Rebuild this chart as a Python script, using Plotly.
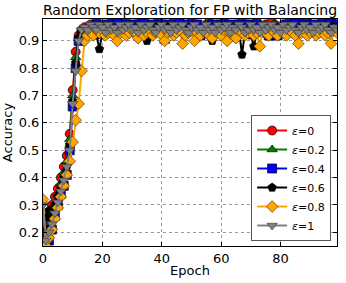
import plotly.graph_objects as go

epochs = list(range(100))

acc_e0 = [0.19,0.22,0.26,0.30,0.33,0.36,0.40,0.44,0.48,0.56,
          0.72,0.86,0.92,0.94,0.95,0.94,0.96,0.95,0.97,0.95,
          0.96,0.94,0.95,0.97,0.96,0.95,0.94,0.96,0.97,0.95,
          0.95,0.96,0.94,0.97,0.95,0.96,0.95,0.94,0.96,0.97,
          0.95,0.96,0.94,0.95,0.97,0.96,0.95,0.96,0.94,0.95,
          0.97,0.95,0.96,0.94,0.95,0.96,0.97,0.95,0.94,0.96,
          0.95,0.97,0.96,0.94,0.95,0.96,0.95,0.97,0.94,0.96,
          0.95,0.96,0.97,0.95,0.94,0.96,0.95,0.97,0.96,0.95,
          0.94,0.96,0.95,0.97,0.96,0.95,0.94,0.96,0.95,0.97,
          0.96,0.95,0.94,0.96,0.97,0.95,0.96,0.94,0.95,0.96]

acc_e02 = [0.18,0.20,0.24,0.27,0.30,0.34,0.38,0.42,0.46,0.54,
           0.70,0.84,0.91,0.93,0.94,0.95,0.94,0.96,0.95,0.94,
           0.95,0.96,0.94,0.95,0.96,0.94,0.95,0.97,0.95,0.94,
           0.96,0.95,0.94,0.96,0.95,0.94,0.96,0.95,0.97,0.94,
           0.95,0.90,0.94,0.96,0.95,0.94,0.96,0.95,0.94,0.96,
           0.95,0.94,0.96,0.95,0.94,0.96,0.95,0.94,0.96,0.95,
           0.94,0.96,0.95,0.94,0.96,0.95,0.94,0.95,0.92,0.96,
           0.95,0.94,0.96,0.95,0.94,0.96,0.95,0.94,0.96,0.95,
           0.94,0.96,0.95,0.94,0.95,0.96,0.94,0.97,0.95,0.94,
           0.96,0.95,0.94,0.96,0.95,0.94,0.96,0.95,0.94,0.95]

acc_e04 = [0.16,0.17,0.17,0.21,0.26,0.30,0.34,0.37,0.41,0.50,
           0.66,0.80,0.90,0.93,0.93,0.94,0.95,0.93,0.96,0.94,
           0.95,0.94,0.96,0.95,0.94,0.97,0.95,0.94,0.96,0.95,
           0.94,0.96,0.95,0.94,0.97,0.95,0.94,0.96,0.95,0.94,
           0.96,0.95,0.94,0.96,0.95,0.94,0.97,0.95,0.94,0.96,
           0.95,0.94,0.96,0.92,0.93,0.95,0.94,0.96,0.95,0.94,
           0.96,0.95,0.94,0.96,0.95,0.94,0.96,0.95,0.94,0.96,
           0.95,0.94,0.96,0.95,0.94,0.93,0.92,0.92,0.93,0.92,
           0.95,0.94,0.96,0.95,0.94,0.97,0.95,0.94,0.96,0.95,
           0.94,0.96,0.95,0.94,0.96,0.95,0.94,0.97,0.95,0.96]

acc_e06 = [0.22,0.25,0.28,0.27,0.30,0.33,0.36,0.40,0.44,0.52,
           0.68,0.82,0.91,0.93,0.94,0.93,0.94,0.93,0.92,0.87,
           0.93,0.94,0.93,0.95,0.94,0.93,0.94,0.95,0.93,0.94,
           0.93,0.94,0.95,0.93,0.94,0.90,0.93,0.94,0.95,0.93,
           0.94,0.93,0.95,0.94,0.93,0.94,0.95,0.93,0.94,0.93,
           0.94,0.95,0.93,0.94,0.93,0.94,0.92,0.90,0.93,0.94,
           0.93,0.95,0.94,0.93,0.94,0.93,0.94,0.85,0.93,0.94,
           0.92,0.88,0.93,0.94,0.95,0.93,0.94,0.93,0.95,0.94,
           0.93,0.94,0.95,0.93,0.94,0.93,0.94,0.95,0.93,0.94,
           0.93,0.94,0.93,0.95,0.94,0.93,0.94,0.93,0.95,0.94]

acc_e08 = [0.32,0.15,0.18,0.21,0.25,0.29,0.33,0.37,0.41,0.46,
           0.53,0.61,0.67,0.79,0.90,0.92,0.93,0.92,0.94,0.93,
           0.94,0.92,0.93,0.94,0.92,0.90,0.93,0.94,0.92,0.93,
           0.94,0.93,0.91,0.94,0.92,0.93,0.94,0.92,0.93,0.94,
           0.92,0.90,0.93,0.94,0.92,0.93,0.94,0.89,0.92,0.93,
           0.94,0.90,0.93,0.92,0.94,0.93,0.92,0.91,0.94,0.93,
           0.92,0.94,0.90,0.93,0.92,0.91,0.94,0.93,0.92,0.93,
           0.94,0.92,0.93,0.88,0.94,0.93,0.92,0.94,0.93,0.92,
           0.94,0.93,0.92,0.94,0.93,0.92,0.89,0.93,0.94,0.92,
           0.93,0.94,0.92,0.93,0.94,0.92,0.93,0.89,0.94,0.93]

acc_e1 = [0.30,0.17,0.20,0.23,0.27,0.31,0.35,0.39,0.44,0.50,
          0.67,0.79,0.90,0.94,0.95,0.94,0.96,0.95,0.94,0.96,
          0.95,0.93,0.96,0.94,0.95,0.93,0.96,0.94,0.95,0.96,
          0.94,0.95,0.93,0.96,0.94,0.95,0.96,0.94,0.93,0.95,
          0.96,0.94,0.95,0.93,0.96,0.94,0.95,0.96,0.94,0.93,
          0.95,0.96,0.94,0.95,0.93,0.96,0.94,0.95,0.93,0.96,
          0.94,0.95,0.96,0.93,0.95,0.94,0.96,0.95,0.93,0.94,
          0.96,0.94,0.95,0.93,0.96,0.94,0.95,0.96,0.94,0.95,
          0.93,0.96,0.94,0.95,0.96,0.94,0.93,0.95,0.96,0.94,
          0.95,0.93,0.96,0.94,0.95,0.96,0.94,0.93,0.95,0.94]

series_names = ["<i>ε</i>=0", "<i>ε</i>=0.2", "<i>ε</i>=0.4",
                "<i>ε</i>=0.6", "<i>ε</i>=0.8", "<i>ε</i>=1"]
series_values = [acc_e0, acc_e02, acc_e04, acc_e06, acc_e08, acc_e1]
colors = ["#ff0000", "#007f00", "#0000ff", "#000000", "#ffa500", "#808080"]
symbols = ["circle", "triangle-up", "square", "pentagon", "diamond", "triangle-down"]
edge_colors = ["#000000", "#000000", "#000000", "#000000", "#5a3a00", "#404040"]

fig = go.Figure()
for name, vals, c, s, ec in zip(series_names, series_values, colors, symbols, edge_colors):
    fig.add_trace(go.Scatter(
        x=epochs, y=vals, mode="lines+markers", name=name,
        line=dict(color=c, width=2),
        marker=dict(symbol=s, size=9, color=c, line=dict(color=ec, width=0.7)),
        cliponaxis=True,
    ))

font_family = "DejaVu Sans, Liberation Sans, sans-serif"
fig.update_layout(
    width=346, height=283,
    margin=dict(l=43, r=9, t=19, b=37),
    paper_bgcolor="white", plot_bgcolor="white",
    font=dict(family=font_family, size=13, color="black"),
    title=dict(text="Random Exploration for FP with Balancing",
               font=dict(size=14, color="black", family=font_family),
               x=(43 + 337) / 2 / 346, xanchor="center",
               y=1 - 10 / 283, yanchor="middle", yref="container"),
    showlegend=True,
    legend=dict(x=0.98, xanchor="right", y=0.022, yanchor="bottom",
                bgcolor="white", bordercolor="#555555", borderwidth=1,
                font=dict(size=11, family=font_family),
                itemwidth=30, tracegroupgap=0),
)
fig.update_xaxes(
    range=[0, 99], tickvals=[0, 20, 40, 60, 80],
    tickfont=dict(size=13),
    title=dict(text="Epoch", font=dict(size=13), standoff=1),
    showline=True, linecolor="black", linewidth=1, mirror="allticks",
    ticks="inside", ticklen=4, tickcolor="black",
    showgrid=True, gridcolor="#999999", griddash="dot", gridwidth=1,
    zeroline=False, automargin=False,
)
fig.update_yaxes(
    range=[0.15, 0.98], tickvals=[0.2, 0.3, 0.4, 0.5, 0.6, 0.7, 0.8, 0.9],
    tickformat=".1f", tickfont=dict(size=13),
    title=dict(text="Accuracy", font=dict(size=13), standoff=3),
    showline=True, linecolor="black", linewidth=1, mirror="allticks",
    ticks="inside", ticklen=4, tickcolor="black",
    showgrid=True, gridcolor="#999999", griddash="dot", gridwidth=1,
    zeroline=False, automargin=False,
)

fig.write_html("out.html", config={"displayModeBar": False},
               post_script="document.body.style.margin='0';document.body.style.padding='0';")
